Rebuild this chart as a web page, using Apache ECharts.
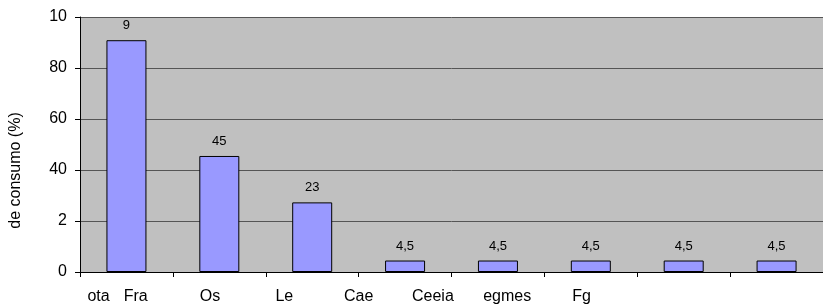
<!DOCTYPE html>
<html>
<head>
<meta charset="utf-8">
<script src="https://cdn.jsdelivr.net/npm/echarts@6/dist/echarts.min.js"></script>
<style>
  html, body { margin: 0; padding: 0; background: #fff; }
  #main { width: 823px; height: 306px; }
</style>
</head>
<body>
<div id="main"></div>
<script>
// categorias (barras)
var categories = ['ota', 'Fra', 'Os', 'Le', 'Cae', 'Ceeia', 'egmes', 'Fg'];
// valores (%)
var values = [90.9, 45.5, 27.3, 4.5, 4.5, 4.5, 4.5, 4.5];
// rótulos mostrados sobre as barras
var barLabels = ['9', '45', '23', '4,5', '4,5', '4,5', '4,5', '4,5'];
// rótulos do eixo y
var yTickLabels = ['0', '2', '40', '60', '80', '10'];
// rótulos do eixo x (desalinhados como no original)
var xLabelSlots = ['ota', 'Fra', '', 'Os', '', 'Le', '', 'Cae', '', 'Ceeia', '', 'egmes', '', 'Fg', '', '', '', '', '', ''];

var font = 'Liberation Sans, Arial, sans-serif';
var chart = echarts.init(document.getElementById('main'), null, { renderer: 'canvas' });

var option = {
  backgroundColor: '#fff',
  animation: false,
  grid: {
    left: 77,
    right: -6,
    top: 17,
    bottom: 34,
    show: true,
    backgroundColor: '#C0C0C0',
    borderWidth: 0
  },
  xAxis: [{
    type: 'category',
    data: categories,
    axisLine: { lineStyle: { color: '#000', width: 1 } },
    axisTick: { show: true, length: 5, lineStyle: { color: '#000' } },
    axisLabel: { show: false },
    splitLine: { show: false }
  }, {
    type: 'category',
    position: 'bottom',
    data: xLabelSlots,
    axisLine: { show: false },
    axisTick: { show: false },
    axisLabel: {
      interval: 0,
      margin: 17,
      color: '#000',
      fontSize: 16,
      fontFamily: font
    }
  }],
  yAxis: {
    type: 'value',
    min: 0,
    max: 100,
    interval: 20,
    name: 'de consumo (%)',
    nameLocation: 'middle',
    nameGap: 56,
    nameTextStyle: { color: '#000', fontSize: 16, fontFamily: font, padding: [0, 52, 0, 0] },
    axisLine: { show: true, lineStyle: { color: '#000', width: 1 } },
    axisTick: { show: true, length: 5, lineStyle: { color: '#000' } },
    axisLabel: {
      color: '#000',
      fontSize: 16,
      fontFamily: font,
      margin: 13,
      formatter: function (v) { return yTickLabels[Math.round(v / 20)]; }
    },
    splitLine: { show: true, lineStyle: { color: '#555', width: 1 } }
  },
  series: [{
    type: 'bar',
    xAxisIndex: 0,
    data: values,
    barWidth: 40,
    itemStyle: { color: '#9999FF', borderColor: '#000', borderWidth: 1 },
    label: {
      show: true,
      position: 'top',
      distance: 8,
      color: '#000',
      fontSize: 13,
      fontFamily: font,
      formatter: function (p) { return barLabels[p.dataIndex]; }
    }
  }]
};

chart.setOption(option);
</script>
</body>
</html>
